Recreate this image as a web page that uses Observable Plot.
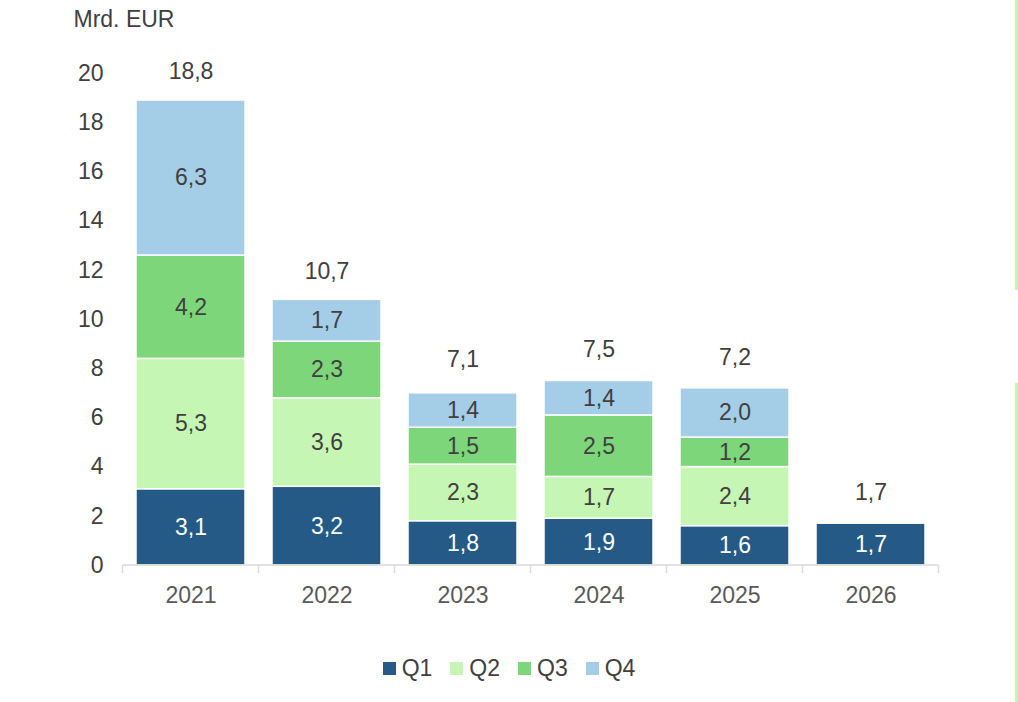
<!DOCTYPE html>
<html>
<head>
<meta charset="utf-8">
<script src="https://cdn.jsdelivr.net/npm/d3@7"></script>
<script src="https://cdn.jsdelivr.net/npm/@observablehq/plot@0.6"></script>
<style>
  body { margin: 0; background: #ffffff; font-family: "Liberation Sans", Arial, sans-serif; }
  #wrap { position: relative; width: 1018px; height: 702px; overflow: hidden; }
  .legend { display: flex; justify-content: center; align-items: center; margin-top: 33px; height: 30px; font-size: 23px; color: #404040; }
  .legend .item { display: flex; align-items: center; margin: 0 9px 0 9px; }
  .legend .sw { width: 13px; height: 13px; margin-right: 6px; }
  .edge { position: absolute; left: 1015px; width: 3px; background: #c6f5b0; }
</style>
</head>
<body>
<div id="wrap">
  <div id="chart"></div>
  <div class="legend" id="legend"></div>
  <div class="edge" style="top:0;height:290px"></div>
  <div class="edge" style="top:383px;height:319px"></div>
</div>
<script>
const years = ["2021", "2022", "2023", "2024", "2025", "2026"];
const quarters = ["Q1", "Q2", "Q3", "Q4"];
const q1 = [3.1, 3.2, 1.8, 1.9, 1.6, 1.7];
const q2 = [5.3, 3.6, 2.3, 1.7, 2.4, null];
const q3 = [4.2, 2.3, 1.5, 2.5, 1.2, null];
const q4 = [6.3, 1.7, 1.4, 1.4, 2.0, null];
const totals = [18.8, 10.7, 7.1, 7.5, 7.2, 1.7];
const yTicks = [0, 2, 4, 6, 8, 10, 12, 14, 16, 18, 20];
const colors = ["#255a87", "#c6f6b3", "#7dd67a", "#a4cde8"];

const series = [q1, q2, q3, q4];
const data = [];
years.forEach((yr, i) => {
  quarters.forEach((q, j) => {
    const v = series[j][i];
    if (v != null) data.push({year: yr, quarter: q, value: v});
  });
});
const totalData = years.map((yr, i) => ({year: yr, total: totals[i]}));
const fmt = v => v.toFixed(1).replace(".", ",");

const boundaryTicks = {
  render: (index, scales, values, dims) => {
    const x = scales.x;
    const step = x.step();
    const off = (step - x.bandwidth()) / 2;
    const y0 = scales.y(0);
    const g = d3.create("svg:g").attr("stroke", "#d9d9d9").attr("stroke-width", 1.5);
    const xs = years.map(d => x(d) - off).concat([x(years[years.length - 1]) - off + step]);
    g.append("line").attr("x1", xs[0]).attr("x2", xs[xs.length - 1]).attr("y1", y0).attr("y2", y0);
    xs.forEach(px => g.append("line").attr("x1", px).attr("x2", px).attr("y1", y0).attr("y2", y0 + 8));
    return g.node();
  }
};

const chart = Plot.plot({
  width: 1018,
  height: 620,
  marginTop: 73,
  marginBottom: 55,
  marginLeft: 120,
  marginRight: 78,
  style: {fontFamily: '"Liberation Sans", Arial, sans-serif', fontSize: "23px", color: "#404040", background: "transparent"},
  x: {domain: years, paddingInner: 0.2, paddingOuter: 0.1, label: null},
  y: {domain: [0, 20], label: null},
  color: {domain: quarters, range: colors},
  marks: [
    Plot.barY(data, Plot.stackY({x: "year", y: "value", z: "quarter", fill: "quarter", stroke: "#ffffff", strokeWidth: 1.5})),
    () => null,
    Object.assign(Plot.ruleY([0], {stroke: "none"}), boundaryTicks),
    Plot.text(data, Plot.stackY({x: "year", y: "value", z: "quarter", text: d => fmt(d.value), fill: d => d.quarter === "Q1" ? "#ffffff" : "#404040", fontSize: 23})),
    Plot.text(totalData, {x: "year", y: "total", text: d => fmt(d.total), dy: -31, fill: "#404040", fontSize: 23}),
    Plot.axisX({tickSize: 0, tickPadding: 21, fontSize: 23, color: "#595959"}),
    Plot.axisY({ticks: yTicks, tickSize: 0, tickPadding: 17, fontSize: 23, tickFormat: d => String(d), color: "#404040"}),
    Plot.text(["Mrd. EUR"], {frameAnchor: "top-left", text: d => d, dx: -47, dy: -54, textAnchor: "start", lineAnchor: "middle", fill: "#404040", fontSize: 23})
  ]
});
document.getElementById("chart").appendChild(chart);

const legend = document.getElementById("legend");
quarters.forEach((q, j) => {
  const item = document.createElement("div");
  item.className = "item";
  const sw = document.createElement("div");
  sw.className = "sw";
  sw.style.background = colors[j];
  const t = document.createElement("span");
  t.textContent = q;
  item.appendChild(sw);
  item.appendChild(t);
  legend.appendChild(item);
});
</script>
</body>
</html>
